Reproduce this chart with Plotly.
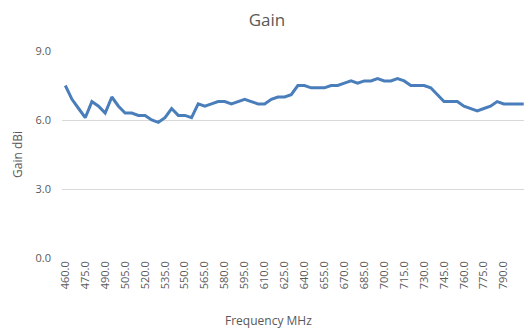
import plotly.graph_objects as go

# Measured antenna gain, sampled every 5 MHz
freq_mhz = [460 + 5 * i for i in range(70)]
gain_dbi = [
    7.5, 6.9, 6.5, 6.1, 6.8, 6.6, 6.3, 7.0, 6.6, 6.3,
    6.3, 6.2, 6.2, 6.0, 5.9, 6.1, 6.5, 6.2, 6.2, 6.1,
    6.7, 6.6, 6.7, 6.8, 6.8, 6.7, 6.8, 6.9, 6.8, 6.7,
    6.7, 6.9, 7.0, 7.0, 7.1, 7.5, 7.5, 7.4, 7.4, 7.4,
    7.5, 7.5, 7.6, 7.7, 7.6, 7.7, 7.7, 7.8, 7.7, 7.7,
    7.8, 7.7, 7.5, 7.5, 7.5, 7.4, 7.1, 6.8, 6.8, 6.8,
    6.6, 6.5, 6.4, 6.5, 6.6, 6.8, 6.7, 6.7, 6.7, 6.7,
]
x_tick_vals = list(range(460, 791, 15))
x_tick_text = [f"{v:.1f}" for v in x_tick_vals]
y_tick_vals = [0, 3, 6, 9]
y_tick_text = [f"{v:.1f}" for v in y_tick_vals]

FONT = "Open Sans, Lato, sans-serif"
TEXT_COLOR = "#595959"
GRID_COLOR = "#d9d9d9"

W, H = 524, 329
ML, MR, MT, MB = 62, 0, 51, 71
PW, PH = W - ML - MR, H - MT - MB


def paper_x(px):
    return (px - ML) / PW


def paper_y(py):
    return 1 - (py - MT) / PH


fig = go.Figure(
    go.Scatter(
        x=freq_mhz,
        y=gain_dbi,
        mode="lines",
        line=dict(color="#4a7ebb", width=3),
        hoverinfo="x+y",
    )
)

fig.update_layout(
    width=W,
    height=H,
    margin=dict(l=ML, r=MR, t=MT, b=MB),
    paper_bgcolor="white",
    plot_bgcolor="white",
    showlegend=False,
    font=dict(family=FONT, color=TEXT_COLOR, size=11),
    title=dict(
        text="Gain",
        x=267 / W,
        xref="container",
        xanchor="center",
        y=1 - 20 / H,
        yref="container",
        yanchor="middle",
        font=dict(family=FONT, size=17, color=TEXT_COLOR),
    ),
    xaxis=dict(
        range=[457.5, 805.2],
        tickmode="array",
        tickvals=x_tick_vals,
        ticktext=x_tick_text,
        tickangle=-90,
        ticks="",
        showgrid=False,
        zeroline=False,
        showline=False,
        tickfont=dict(size=11, color=TEXT_COLOR),
        automargin=False,
    ),
    yaxis=dict(
        range=[0, 9],
        tickmode="array",
        tickvals=y_tick_vals,
        ticktext=y_tick_text,
        showgrid=True,
        gridcolor=GRID_COLOR,
        gridwidth=1,
        zeroline=False,
        showline=False,
        ticks="",
        ticklabelstandoff=10,
        tickfont=dict(size=11, color=TEXT_COLOR),
        automargin=False,
    ),
    annotations=[
        dict(
            text="Gain dBi",
            x=paper_x(17),
            y=paper_y(155),
            xref="paper",
            yref="paper",
            xanchor="center",
            yanchor="middle",
            showarrow=False,
            textangle=-90,
            font=dict(family=FONT, size=12, color=TEXT_COLOR),
        ),
        dict(
            text="Frequency MHz",
            x=paper_x(268),
            y=paper_y(320),
            xref="paper",
            yref="paper",
            xanchor="center",
            yanchor="middle",
            showarrow=False,
            font=dict(family=FONT, size=12, color=TEXT_COLOR),
        ),
    ],
)

fig.write_html("out.html")
